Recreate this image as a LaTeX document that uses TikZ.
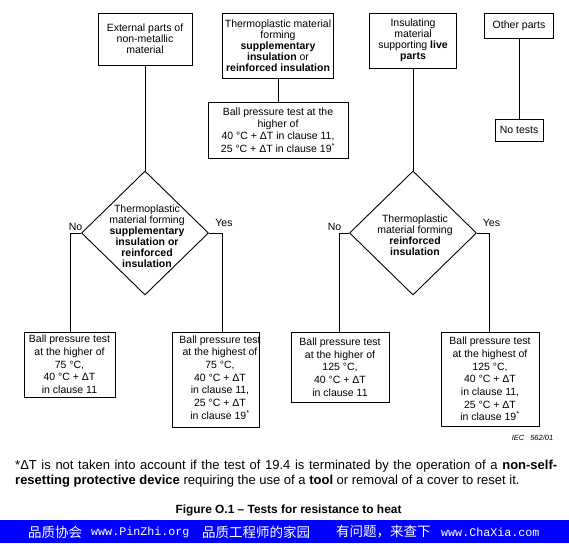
\documentclass[tikz,border=0pt]{standalone}
\usepackage{fontspec}
\setmainfont{Liberation Sans}
\newfontfamily\cjk{Noto Sans CJK SC}
\newfontfamily\monof{Liberation Mono}
\usetikzlibrary{shapes.geometric}
\begin{document}
\begin{tikzpicture}[x=1pt,y=-1pt,
  box/.style={draw, line width=0.9pt, inner sep=0pt, align=center, font=\fontsize{10.5}{11}\selectfont},
  lowbox/.style={box, font=\fontsize{10.5}{12.7}\selectfont},
  dia/.style={draw, line width=0.9pt, shape=diamond, inner sep=0pt, minimum width=127pt, minimum height=124pt},
  diatext/.style={inner sep=0pt, align=center, font=\fontsize{10.5}{11}\selectfont},
  conn/.style={line width=0.9pt},
  yn/.style={inner sep=0pt, font=\fontsize{10.5}{11}\selectfont},
  bantext/.style={inner sep=0pt, text=white, anchor=west},
]
\useasboundingbox (0,0) rectangle (569,543);
% top row
\node[box, minimum width=94pt, minimum height=52pt] (b1) at (145,39) {External parts of\\non-metallic\\material};
\node[box, minimum width=111pt, minimum height=65pt] (b2) at (278,45.5) {Thermoplastic material\\forming\\\textbf{supplementary}\\\textbf{insulation} or\\\textbf{reinforced insulation}};
\node[box, font=\fontsize{10.5}{12.3}\selectfont, minimum width=140pt, minimum height=56pt] (b3) at (278,130) {Ball pressure test at the\\higher of\\40 °C + ΔT in clause 11,\\25 °C + ΔT in clause 19\textsuperscript{*}};
\node[box, minimum width=87pt, minimum height=55pt] (b4) at (413,40.5) {Insulating\\material\\supporting \textbf{live}\\\textbf{parts}};
\node[box, minimum width=69pt, minimum height=25pt] (b5) at (519,25.5) {Other parts};
\node[box, minimum width=48pt, minimum height=22pt] (b6) at (519,130) {No tests};
% diamonds
\node[dia] (d1) at (145,233) {};
\node[diatext] (d1t) at (147,236) {Thermoplastic\\material forming\\\textbf{supplementary}\\\textbf{insulation or}\\\textbf{reinforced}\\\textbf{insulation}};
\node[dia] (d2) at (413,233) {};
\node[diatext] (d2t) at (415,235) {Thermoplastic\\material forming\\\textbf{reinforced}\\\textbf{insulation}};
% bottom boxes
\node[lowbox, minimum width=91pt, minimum height=65pt] (b7) at (69.5,364.5) {Ball pressure test\\at the higher of\\75 °C,\\40 °C + ΔT\\in clause 11};
\node[draw, line width=0.9pt, minimum width=87pt, minimum height=95pt, inner sep=0pt] (b8) at (215.5,379.5) {};
\node[lowbox, draw=none] (b8t) at (220,377.5) {Ball pressure test\\at the highest of\\75 °C,\\40 °C + ΔT\\in clause 11,\\25 °C + ΔT\\in clause 19\textsuperscript{*}};
\node[lowbox, minimum width=98pt, minimum height=70pt] (b9) at (340,367) {Ball pressure test\\at the higher of\\125 °C,\\40 °C + ΔT\\in clause 11};
\node[lowbox, minimum width=98pt, minimum height=94pt] (b10) at (490,379) {Ball pressure test\\at the highest of\\125 °C,\\40 °C + ΔT\\in clause 11,\\25 °C + ΔT\\in clause 19\textsuperscript{*}};
% connectors
\draw[conn] (b1.south) -- (d1.north);
\draw[conn] (b2.south) -- (b3.north);
\draw[conn] (b4.south) -- (d2.north);
\draw[conn] (b5.south) -- (b6.north);
\coordinate (n1) at (70.5,233);
\coordinate (y1) at (222,233);
\coordinate (n2) at (339,233);
\coordinate (y2) at (489,233);
\draw[conn] (d1.west) -- (n1) -- (n1 |- b7.north);
\draw[conn] (d1.east) -- (y1) -- (y1 |- b8.north);
\draw[conn] (d2.west) -- (n2) -- (n2 |- b9.north);
\draw[conn] (d2.east) -- (y2) -- (y2 |- b10.north);
% labels
\node[yn] (l1) at (75.5,226.5) {No};
\node[yn] (l2) at (224,223) {Yes};
\node[yn] (l3) at (334.5,226.5) {No};
\node[yn] (l4) at (491.5,223) {Yes};
\node[inner sep=0pt, font=\fontsize{7.5}{8}\itshape] (iec) at (532.5,438) {IEC\hspace{6pt}562/01};
% footnote and caption
\node[inner sep=0pt, anchor=base west, font=\fontsize{13}{14}\selectfont] (fn1) at (15,469) {\makebox[542pt][s]{*ΔT is not taken into account if the test of 19.4 is terminated by the operation of a \textbf{non-self-}}};
\node[inner sep=0pt, anchor=base west, font=\fontsize{13}{14}\selectfont] (fn2) at (15,484) {\textbf{resetting protective device} requiring the use of a \textbf{tool} or removal of a cover to reset it.};
\node[inner sep=0pt, font=\fontsize{11.9}{13}\bfseries] (cap) at (288.5,510) {Figure O.1 – Tests for resistance to heat};
% banner
\node[fill=blue, inner sep=0pt, minimum width=569pt, minimum height=23pt, anchor=north west] (ban) at (0,520) {};
\node[bantext, font=\cjk\fontsize{13.5}{14}\selectfont] (t1) at (28,532) {品质协会};
\node[bantext, font=\monof\fontsize{11.7}{14}\selectfont] (t2) at (91,532) {www.PinZhi.org};
\node[bantext, font=\cjk\fontsize{13.5}{14}\selectfont] (t3) at (202,532) {品质工程师的家园};
\node[bantext, font=\cjk\fontsize{13.5}{14}\selectfont] (t4) at (336,532) {有问题，来查下};
\node[bantext, font=\monof\fontsize{11.7}{14}\selectfont] (t5) at (441,532) {www.ChaXia.com};
\end{tikzpicture}
\end{document}
